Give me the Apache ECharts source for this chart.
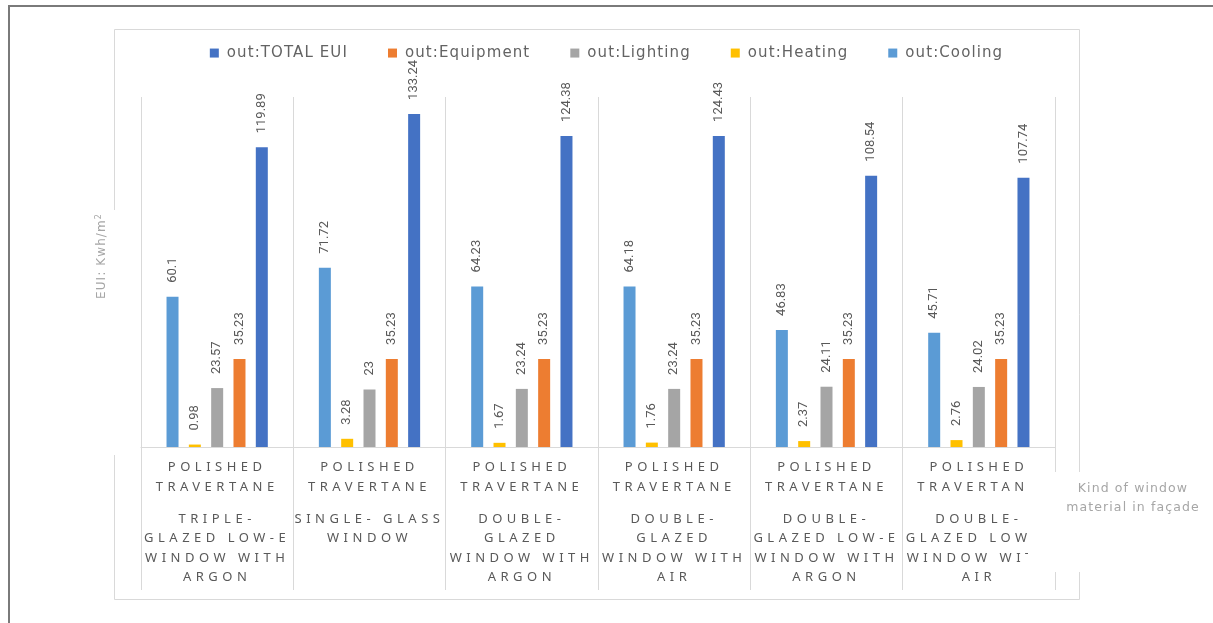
<!DOCTYPE html>
<html><head><meta charset="utf-8">
<script src="https://cdn.jsdelivr.net/npm/echarts@6/dist/echarts.min.js"></script>
<style>html,body{margin:0;padding:0;background:#fff}#c{width:1213px;height:623px}</style>
</head><body><div id="c"></div>
<script>
// ---------- data ----------
const facade = ['POLISHED TRAVERTANE','POLISHED TRAVERTANE','POLISHED TRAVERTANE','POLISHED TRAVERTANE','POLISHED TRAVERTANE','POLISHED TRAVERTANE'];
const windowTypes = [
  'TRIPLE-\nGLAZED LOW-E\nWINDOW WITH\nARGON',
  'SINGLE- GLASS\nWINDOW',
  'DOUBLE-\nGLAZED\nWINDOW WITH\nARGON',
  'DOUBLE-\nGLAZED\nWINDOW WITH\nAIR',
  'DOUBLE-\nGLAZED LOW-E\nWINDOW WITH\nARGON',
  'DOUBLE-\nGLAZED LOW-E\nWINDOW WITH\nAIR'
];
const cooling   = [60.1, 71.72, 64.23, 64.18, 46.83, 45.71];
const heating   = [0.98, 3.28, 1.67, 1.76, 2.37, 2.76];
const lighting  = [23.57, 23, 23.24, 23.24, 24.11, 24.02];
const equipment = [35.23, 35.23, 35.23, 35.23, 35.23, 35.23];
const totalEUI  = [119.89, 133.24, 124.38, 124.43, 108.54, 107.74];
const seriesNames = ['out:Cooling','out:Heating','out:Lighting','out:Equipment','out:TOTAL EUI'];
const legendOrder = ['out:TOTAL EUI','out:Equipment','out:Lighting','out:Heating','out:Cooling'];
const yTitle = 'EUI: Kwh/m';
const ySup = '2';
const xTitle = 'Kind of window\nmaterial in façade';

// ---------- letter spacing for spaced-out fonts ----------
(function(){
  const P = CanvasRenderingContext2D.prototype;
  const SP = [['Noto Sans','4.5px'],['DejaVu Sans','1.1px']];
  function apply(ctx){
    if (!('letterSpacing' in ctx)) return;
    const f = ctx.font || '';
    let ls = '0px';
    for (const s of SP) { if (f.indexOf(s[0]) >= 0) { ls = s[1]; break; } }
    ctx.letterSpacing = ls;
  }
  const ft = P.fillText, mt = P.measureText;
  P.fillText = function(){ apply(this); return ft.apply(this, arguments); };
  P.measureText = function(){ apply(this); return mt.apply(this, arguments); };
})();

const colors = {'out:Cooling':'#5B9BD5','out:Heating':'#FFC000','out:Lighting':'#A5A5A5','out:Equipment':'#ED7D31','out:TOTAL EUI':'#4472C4'};
const dataMap = {'out:Cooling':cooling,'out:Heating':heating,'out:Lighting':lighting,'out:Equipment':equipment,'out:TOTAL EUI':totalEUI};

const chart = echarts.init(document.getElementById('c'), null, {renderer:'canvas'});
const series = seriesNames.map(n => ({
  name: n, type: 'bar', data: dataMap[n],
  barWidth: 12, barGap: '86%',
  itemStyle: {color: colors[n]},
  label: {show: true, position: 'top', rotate: 90, align: 'left', verticalAlign: 'middle', distance: 14,
          fontFamily: 'Roboto', fontSize: 13, color: '#595959'},
  emphasis: {disabled: true}
}));

const option = {
  animation: false,
  backgroundColor: '#fff',
  legend: {
    data: legendOrder, top: 40, left: 'center', itemGap: 40, itemWidth: 9, itemHeight: 9, icon: 'rect',
    textStyle: {fontFamily: 'DejaVu Sans', fontSize: 15, color: '#636363', padding: [0,0,0,3]},
    selectedMode: false
  },
  grid: {left: 141, right: 158, top: 97, bottom: 176, containLabel: false},
  xAxis: {
    type: 'category', data: windowTypes,
    axisLine: {show: true, lineStyle: {color: '#d9d9d9', width: 1}},
    axisTick: {show: true, length: 143, interval: 0, lineStyle: {color: '#d9d9d9', width: 1}},
    splitLine: {show: true, interval: 0, lineStyle: {color: '#d9d9d9', width: 1}},
    axisLabel: {
      interval: 0, margin: 10, color: '#595959',
      formatter: function(value, idx){
        const top = facade[idx].split(' ').map(s => '{m|' + s + '}').join('\n');
        const bot = value.split('\n').map(s => '{w|' + s + '}').join('\n');
        return top + '\n{g| }\n' + bot;
      },
      rich: {
        m: {fontFamily: 'Noto Sans', fontSize: 13, lineHeight: 20, color: '#595959'},
        g: {fontSize: 4, lineHeight: 12.5},
        w: {fontFamily: 'Noto Sans', fontSize: 13, lineHeight: 19.5, color: '#595959'}
      }
    }
  },
  yAxis: {type: 'value', min: 0, max: 140, show: true,
    axisLine: {show: false}, axisTick: {show: false}, axisLabel: {show: false}, splitLine: {show: false}},
  series: series,
  graphic: [
    {type: 'rect', z: 1, silent: true, shape: {x: 9, y: 6, width: 1300, height: 700},
     style: {fill: 'none', stroke: '#7a7a7a', lineWidth: 2}},
    {type: 'rect', z: 1, silent: true, shape: {x: 114.5, y: 29.5, width: 965, height: 570},
     style: {fill: 'none', stroke: '#d9d9d9', lineWidth: 1}},
    {type: 'rect', z: 50, silent: true, shape: {x: 92, y: 210, width: 26, height: 245},
     style: {fill: '#fff'}},
    {type: 'text', z: 51, silent: true, x: 102, y: 256, rotation: Math.PI/2,
     style: {text: '{a|' + yTitle + '}{s|' + ySup + '}', align: 'center', verticalAlign: 'middle', fill: '#a6a6a6',
       rich: {a: {fontFamily: 'DejaVu Sans', fontSize: 12, fill: '#a6a6a6'},
              s: {fontFamily: 'DejaVu Sans', fontSize: 8, fill: '#a6a6a6', verticalAlign: 'top', padding: [0,0,6,0]}}}},
    {type: 'rect', z: 50, silent: true, shape: {x: 1028, y: 472, width: 185, height: 100},
     style: {fill: '#fff'}},
    {type: 'text', z: 51, silent: true, x: 1133, y: 498,
     style: {text: xTitle, align: 'center', verticalAlign: 'middle', fontFamily: 'DejaVu Sans', fontSize: 12.5,
       lineHeight: 19, fill: '#a6a6a6'}}
  ]
};
chart.setOption(option);
</script>
</body></html>
